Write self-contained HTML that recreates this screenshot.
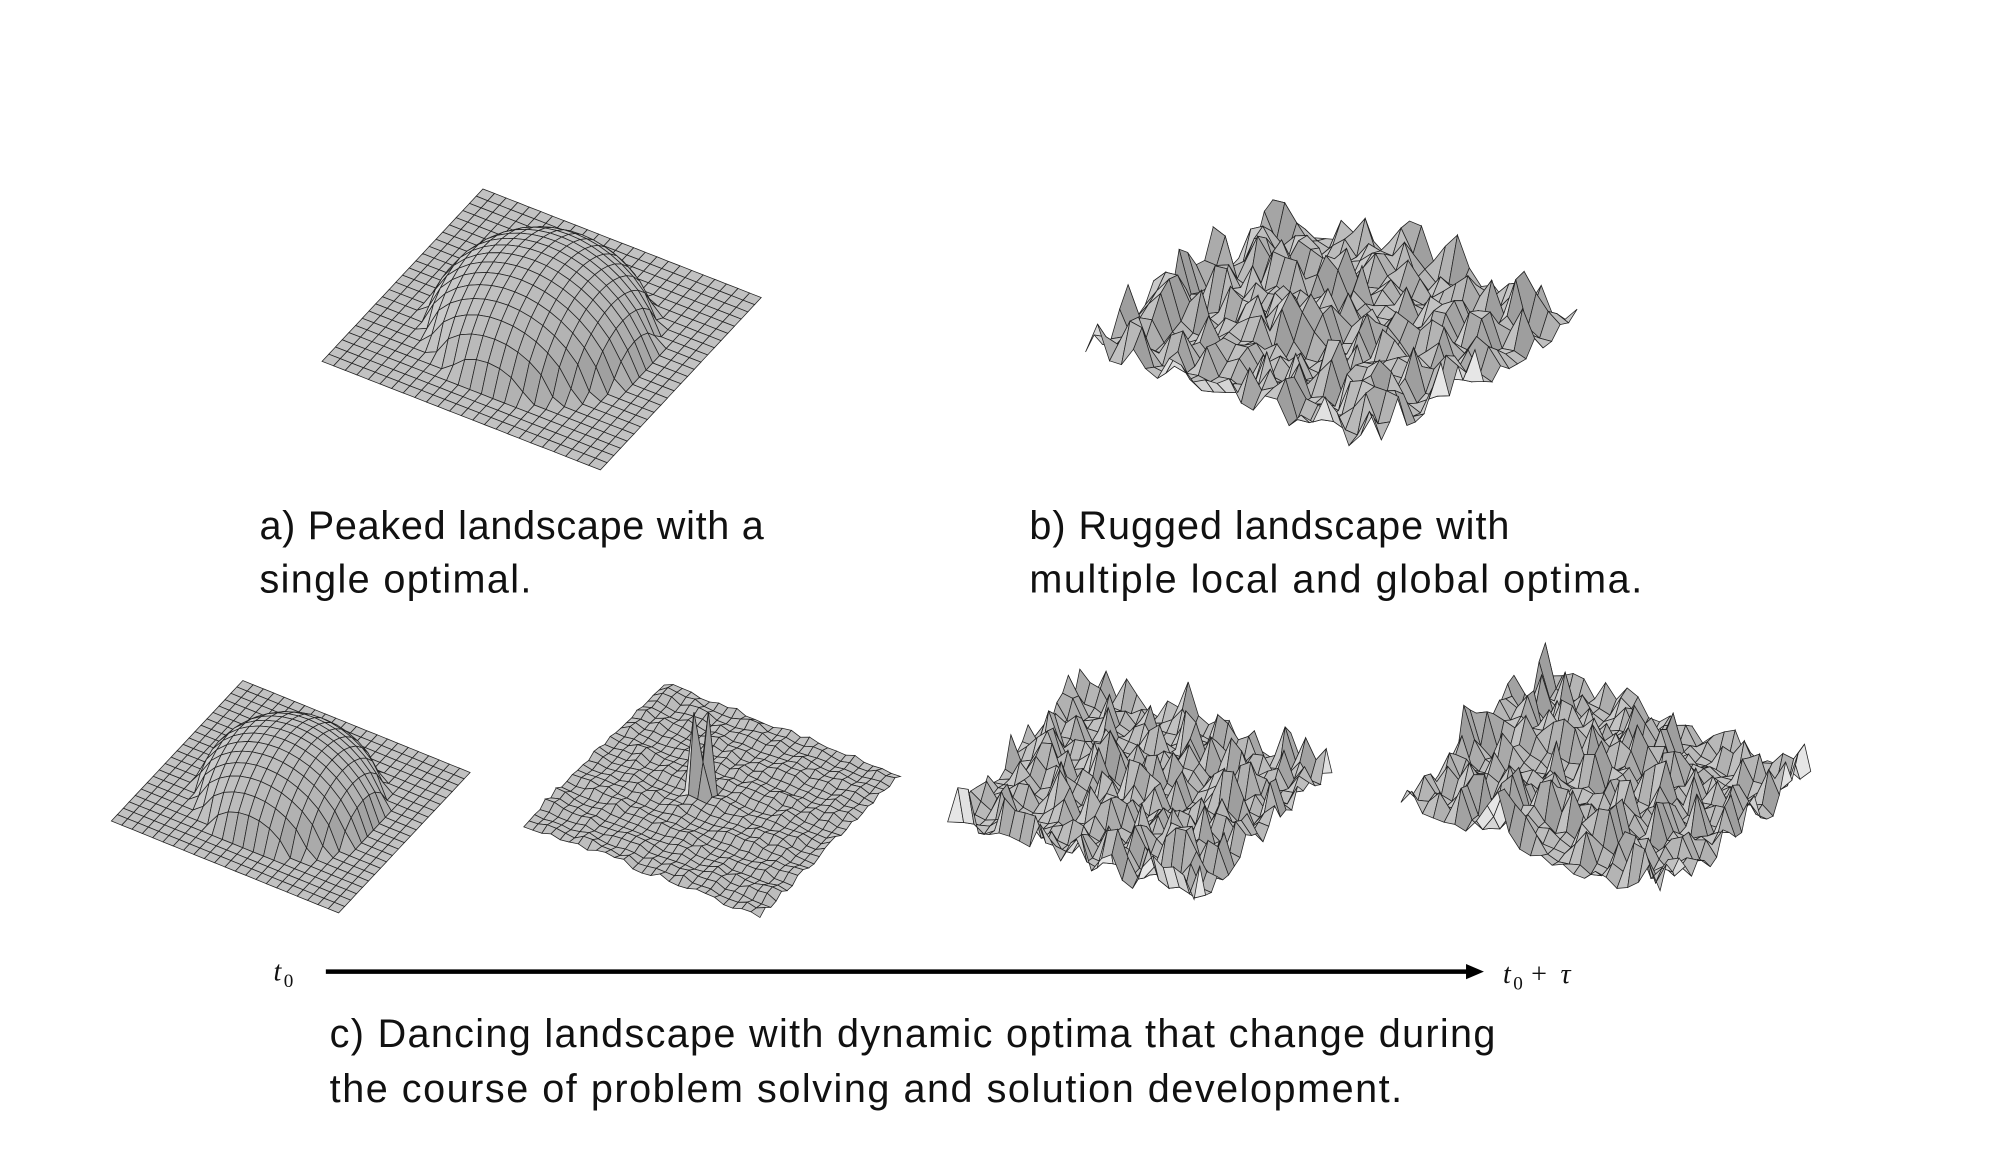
<!DOCTYPE html>
<html><head><meta charset="utf-8"><style>
html,body{margin:0;padding:0;background:#fff;}
svg{display:block;}
.lbl{font-family:"Liberation Sans",sans-serif;font-size:31px;fill:#111;}
.m{font-family:"Liberation Serif",serif;font-style:italic;font-size:22px;fill:#111;}
.s{font-family:"Liberation Serif",serif;font-size:15px;fill:#111;}
</style></head><body>
<svg id="sv" width="2000" height="1167" viewBox="0 0 1566 914" xmlns="http://www.w3.org/2000/svg">
<g id="surfs"></g>
<line x1="255" y1="761" x2="1150" y2="761" stroke="#000" stroke-width="3.5"/>
<polygon points="1162,761 1148,755 1148,767" fill="#000"/>
<text class="m" x="214" y="768">t</text><text class="s" x="222" y="773">0</text>
<text class="m" x="1177" y="770">t</text><text class="s" x="1185" y="775">0</text>
<text class="m" x="1199" y="770" style="font-style:normal">+</text>
<text class="m" x="1222" y="770">τ</text>
<text class="lbl" x="203" y="422" textLength="395">a) Peaked landscape with a</text>
<text class="lbl" x="203" y="464" textLength="213">single optimal.</text>
<text class="lbl" x="806" y="422" textLength="376">b) Rugged landscape with</text>
<text class="lbl" x="806" y="464" textLength="480">multiple local and global optima.</text>
<text class="lbl" x="258" y="820" textLength="913">c) Dancing landscape with dynamic optima that change during</text>
<text class="lbl" x="258" y="863" textLength="840">the course of problem solving and solution development.</text>
</svg>
<script>
var seed=7;function rnd(){seed=(seed*16807)%2147483647;return (seed-1)/2147483646;}
var g=document.getElementById('surfs');var out='';
function surf(L,T,B,N,hf){
 var Z=[];for(var i=0;i<=N;i++){Z[i]=[];for(var j=0;j<=N;j++)Z[i][j]=hf(i/N,j/N,i,j);}
 function P(i,j){var u=i/N,v=j/N;return [L[0]+u*(T[0]-L[0])+v*(B[0]-L[0]),L[1]+u*(T[1]-L[1])+v*(B[1]-L[1])-Z[i][j]];}
 var q=[];for(var i=0;i<N;i++)for(var j=0;j<N;j++)q.push([i,j]);
 q.sort(function(a,b){return (b[0]-b[1])-(a[0]-a[1]);});
 q.forEach(function(c){var i=c[0],j=c[1];
  var du=(Z[i+1][j]+Z[i+1][j+1]-Z[i][j]-Z[i][j+1])/2,dv=(Z[i][j+1]+Z[i+1][j+1]-Z[i][j]-Z[i+1][j])/2;
  var br=0.76+0.006*(dv-du*0.6);br=Math.max(0.62,Math.min(0.9,br));var c2=Math.round(br*255);
  var p=[P(i,j),P(i+1,j),P(i+1,j+1),P(i,j+1)];
  out+='<polygon points="'+p.map(function(x){return x[0].toFixed(1)+','+x[1].toFixed(1);}).join(' ')+'" fill="rgb('+c2+','+c2+','+c2+')" stroke="#222" stroke-width="0.6"/>';});
}
function dome(H){return function(u,v){var d=((u-0.5)*(u-0.5)+(v-0.5)*(v-0.5))/0.13;return d<1?H*Math.pow(1-d,0.6):0;};}
function noise(N,base,amp,pw){var a=[];for(var i=0;i<=N;i++){a[i]=[];for(var j=0;j<=N;j++)a[i][j]=amp*Math.pow(rnd(),pw);}
 var b=[];for(var i=0;i<=N;i++){b[i]=[];for(var j=0;j<=N;j++){var s=a[i][j]*2,n=2;if(i>0){s+=a[i-1][j];n++;}if(j>0){s+=a[i][j-1];n++;}if(i<N){s+=a[i+1][j];n++;}if(j<N){s+=a[i][j+1];n++;}b[i][j]=base+0.5*a[i][j]+0.5*s/n;}}
 return function(u,v,i,j){return b[i][j];};}
surf([252,283],[378,148],[470,368],24,dome(60));
surf([850,292],[1010,190],[1075,368],24,noise(24,8,55,2.5));
surf([87,643],[190,533],[265,715],22,dome(50));
var n2=noise(26,0,7,2);
surf([410,648],[520,537],[595,720],26,function(u,v,i,j){var b=n2(u,v,i,j);if((i==13&&j==11)||(i==14&&j==12))b+=60;if(i==13&&j==12)b+=25;return b;});
surf([742,653],[850,548],[935,718],24,noise(24,3,50,3.5));
surf([1097,642],[1215,548],[1300,720],24,noise(24,8,52,2.5));
g.innerHTML=out;
</script>
</body></html>
